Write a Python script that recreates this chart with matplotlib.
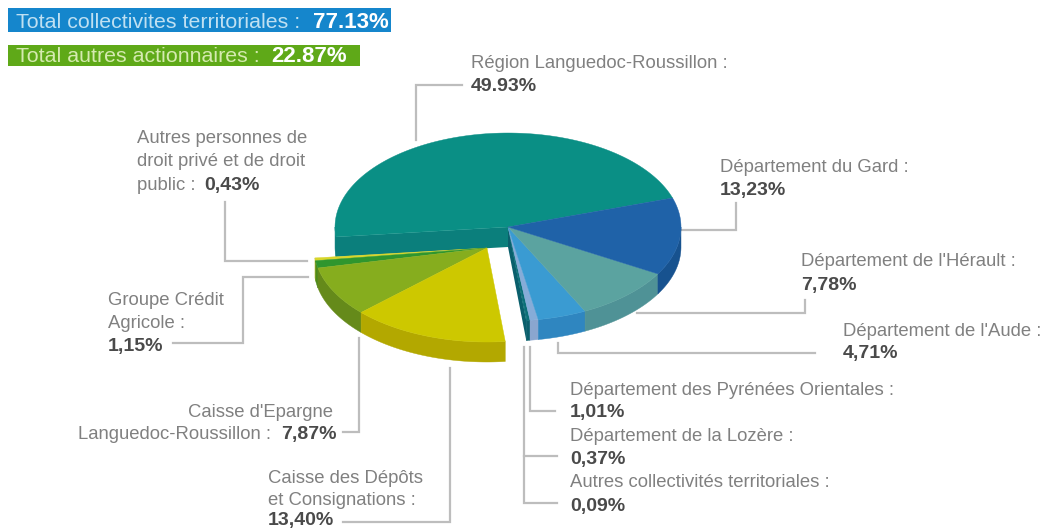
import numpy as np
import matplotlib
matplotlib.use("Agg")
import matplotlib.pyplot as plt
from matplotlib.patches import Polygon, Rectangle

plt.rcParams['font.family'] = ['Liberation Sans', 'DejaVu Sans']

# shares going counter clockwise from the Gard / Region boundary
names = ["Région Languedoc-Roussillon", "Autres personnes", "Groupe Crédit Agricole",
         "Caisse d'Epargne", "Caisse des Dépôts", "Autres collectivités", "Lozère",
         "Pyrénées Orientales", "Aude", "Hérault", "Gard"]
values = [49.93, 0.43, 1.15, 7.87, 13.40, 0.09, 0.37, 1.01, 4.71, 7.78, 13.23]
top_colors = ["#0a8f85", "#d8d62a", "#2f962e", "#86ad1e", "#cdc800", "#0b6f78", "#0b6f78",
              "#86acd8", "#3a9bd2", "#5ba3a0", "#1f62a8"]
side_colors = ["#0b7f7c", "#b9b820", "#4e8a1a", "#658a1a", "#b3a800", "#0a5f6c", "#0a5f6c",
               "#8aa6cf", "#2f86c0", "#4f9296", "#17528f"]
pulled_out = [False, True, True, True, True, False, False, False, False, False, False]

FONT = 13.3
BOLD_FONT = 14
GRAY = "#808080"
DARK = "#4a4a4a"
LINE = "#bdbdbd"

CX, CY = 508, 227
RX, RY = 173, 94
DEPTH = 20
START = 18
PULL = (-21, 21)

# the original pie is drawn in a skewed perspective, so slices do not sit exactly on their share
TRUE_ANGLE = [18, 197.75, 280, 285.3, 302.3, 330.3, 378]
DRAWN_ANGLE = [18, 186, 276, 280, 296.4, 330, 378]

# (text, x, y, bold)
labels = [
    ("Région Languedoc-Roussillon :", 471, 62, False), ("49.93%", 471, 85, True),
    ("Autres personnes de", 137, 137, False), ("droit privé et de droit", 137, 160, False),
    ("public : ", 137, 184, False), ("0,43%", 204, 184, True),
    ("Département du Gard :", 720, 166, False), ("13,23%", 720, 189, True),
    ("Département de l'Hérault :", 801, 260, False), ("7,78%", 801, 284, True),
    ("Département de l'Aude :", 843, 330, False), ("4,71%", 843, 352, True),
    ("Département des Pyrénées Orientales :", 570, 389, False), ("1,01%", 570, 411, True),
    ("Département de la Lozère :", 570, 435, False), ("0,37%", 570, 458, True),
    ("Autres collectivités territoriales :", 570, 481, False), ("0,09%", 570, 505, True),
    ("Caisse des Dépôts", 268, 477, False), ("et Consignations :", 268, 499, False),
    ("13,40%", 268, 518.5, True),
    ("Caisse d'Epargne", 188, 411, False), ("Languedoc-Roussillon : ", 78, 433, False),
    ("7,87%", 281, 433, True),
    ("Groupe Crédit", 108, 299, False), ("Agricole :", 108, 322, False), ("1,15%", 108, 345, True),
]

leaders = [
    [(462, 85), (416, 85), (416, 140)],
    [(225, 202), (225, 261), (307, 261)],
    [(308, 277), (243, 277), (243, 343), (173, 343)],
    [(359, 338), (359, 432), (343, 432)],
    [(343, 522), (450, 522), (450, 368)],
    [(680, 230), (736, 230), (736, 203)],
    [(637, 313), (805, 313), (805, 300)],
    [(558, 343), (558, 353), (815, 353)],
    [(530, 347), (530, 411), (555, 411)],
    [(524, 347), (524, 456), (557, 456)],
    [(524, 456), (524, 503), (557, 503)],
]


def rim(a0, a1, dx, dy, drop=0):
    ang = np.radians(np.linspace(a0, a1, 120))
    return np.column_stack([CX + dx + RX*np.cos(ang), CY + dy + drop - RY*np.sin(ang)])


fig = plt.figure(figsize=(10.49, 5.28), dpi=100)
ax = fig.add_axes([0, 0, 1, 1])
ax.set_xlim(0, 1049)
ax.set_ylim(528, 0)
ax.axis("off")

# header boxes
ax.add_patch(Rectangle((8, 8), 383, 24, color="#1586cc", lw=0))
ax.add_patch(Rectangle((8, 45), 352, 21, color="#5fa918", lw=0))
ax.text(16, 22, "Total collectivites territoriales : ", color="#bfe0f2", fontsize=15.4, va="center")
ax.text(313, 22, "77.13%", color="white", fontsize=16, va="center", fontweight="bold")
ax.text(16, 57, "Total autres actionnaires : ", color="#d5eab0", fontsize=15.4, va="center")
ax.text(271, 57, "22.87%", color="white", fontsize=16, va="center", fontweight="bold")

for pts in leaders:
    xs, ys = zip(*pts)
    ax.plot(xs, ys, color=LINE, lw=1.6, solid_joinstyle="miter")

# angle of each slice, going counter clockwise
edges = START + np.cumsum([0] + values) * 360 / sum(values)
edges = np.interp(edges, TRUE_ANGLE, DRAWN_ANGLE)
order = list(range(len(values)))

# walls of the rim and of the cut faces first, tops over them
for i in order:
    a0, a1 = edges[i], edges[i + 1]
    dx, dy = PULL if pulled_out[i] else (0, 0)
    lo, hi = max(a0, 180), min(a1, 360)
    if lo < hi:
        top = rim(lo, hi, dx, dy)
        ax.add_patch(Polygon(np.vstack([top, rim(hi, lo, dx, dy, DEPTH)]),
                             color=side_colors[i], lw=0.3, zorder=2))

# cut faces next to the gap
apex = (CX, CY)
end = rim(edges[1], edges[1], 0, 0)[0]
ax.add_patch(Polygon([apex, end, end + (0, DEPTH), (CX, CY + DEPTH)], color=side_colors[0], lw=0, zorder=1.5))
end = rim(edges[5], edges[5], 0, 0)[0]
ax.add_patch(Polygon([apex, end, end + (0, DEPTH), (CX, CY + DEPTH)], color="#0a5f6c", lw=0, zorder=1.5))

for i in order:
    dx, dy = PULL if pulled_out[i] else (0, 0)
    pts = np.vstack([[(CX + dx, CY + dy)], rim(edges[i], edges[i + 1], dx, dy)])
    ax.add_patch(Polygon(pts, color=top_colors[i], lw=0.3, zorder=3))

for text, x, y, bold in labels:
    ax.text(x, y + 1.5, text, fontsize=BOLD_FONT if bold else FONT, va="center", color=DARK if bold else GRAY,
            fontweight="bold" if bold else "normal")

fig.savefig("out.png", dpi=100)
